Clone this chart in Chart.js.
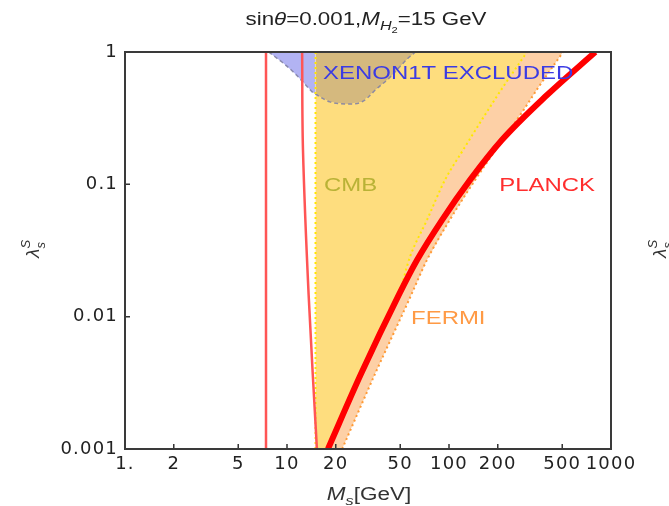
<!DOCTYPE html>
<html>
<head>
<meta charset="utf-8">
<script src="https://cdn.jsdelivr.net/npm/chart.js@4.4.0/dist/chart.umd.min.js"></script>
<style>
  html, body { margin: 0; padding: 0; background: #fff; }
  #wrap { width: 669px; height: 506px; }
</style>
</head>
<body>
<div id="wrap"><canvas id="grafico"></canvas></div>
<script>
// axis ticks
const massTicks = [1, 2, 5, 10, 20, 50, 100, 200, 500, 1000];
const lambdaTicks = [0.001, 0.01, 0.1, 1];

// PLANCK bound (thick red curve)
const planckMass = [17.9, 28.6, 49, 63.5, 90.5, 135, 212, 403, 800];
const planckLambda = [0.001, 0.00368, 0.0146, 0.0268, 0.0537, 0.108, 0.216, 0.473, 1];

// FERMI bound (orange dotted)
const fermiMass = [21.9, 34.9, 56.5, 73.1, 101, 145, 294, 354, 506];
const fermiLambda = [0.001, 0.00368, 0.0133, 0.0268, 0.0537, 0.108, 0.377, 0.534, 1];

// CMB bound (yellow dotted), left edge at M_H2
const cmbEdgeMass = 15;
const cmbMass = [17.9, 28.6, 49, 57.4, 73.1, 94.5, 122, 200, 303];
const cmbLambda = [0.001, 0.00368, 0.0146, 0.0282, 0.0537, 0.108, 0.181, 0.473, 1];

// XENON1T excluded region (boundary, top of the frame is the other side)
const xenonMass = [7.7, 9.3, 10.9, 12.6, 14.3, 15, 18.4, 23.5, 29, 35.9, 43, 50, 56, 62];
const xenonLambda = [1, 0.84, 0.71, 0.59, 0.5, 0.48, 0.42, 0.405, 0.42, 0.53, 0.64, 0.78, 0.9, 1];

// thin red lines
const redVertMass = [7.42, 7.42];
const redVertLambda = [0.001, 1];
const redSlantMass = [12.4, 12.55, 13.6, 15.3];
const redSlantLambda = [1, 0.182, 0.0146, 0.001];

const pts = (xs, ys) => xs.map((x, i) => ({ x: x, y: ys[i] }));
const xenonPts = pts(xenonMass, xenonLambda);

const FONT = '"Liberation Sans", Arial, sans-serif';
const TICKFONT = '"DejaVu Sans", sans-serif';

// text with italics / sub / superscripts, stretched horizontally like the original
function richText(ctx, parts, x, y, size, color, align, sx) {
    ctx.save();
    ctx.letterSpacing = '0px';
    ctx.fillStyle = color;
    ctx.textBaseline = 'alphabetic';
    ctx.textAlign = 'left';
    const fontOf = p => (p.it ? 'italic ' : '') + Math.round(size * (p.s || 1)) + 'px ' + FONT;
    let w = 0;
    parts.forEach(p => { ctx.font = fontOf(p); if (!p.keep) w += ctx.measureText(p.t).width; });
    ctx.translate(x, y);
    ctx.scale(sx, 1);
    let cx = align === 'center' ? -w / 2 : 0;
    parts.forEach(p => {
        ctx.font = fontOf(p);
        ctx.fillText(p.t, cx, (p.dy || 0) * size);
        if (!p.keep) cx += ctx.measureText(p.t).width;
    });
    ctx.restore();
}

const regionLabels = [
    { parts: [{ t: 'XENON1T EXCLUDED' }], x: 16.7, y: 0.7, color: '#3b3be4' },
    { parts: [{ t: 'CMB' }], x: 16.9, y: 0.1, color: '#b9b236' },
    { parts: [{ t: 'PLANCK' }], x: 204, y: 0.1, color: '#ff2e2e' },
    { parts: [{ t: 'FERMI' }], x: 58.3, y: 0.0098, color: '#ff9a45' }
];

const decorPlugin = {
    id: 'decor',
    beforeDraw(chart) {
        chart.ctx.letterSpacing = '1.2px';
    },
    afterDatasetsDraw(chart) {
        const ctx = chart.ctx;
        const a = chart.chartArea;
        const xs = chart.scales.x, ys = chart.scales.y;
        // labels inside the plot
        regionLabels.forEach(l => {
            richText(ctx, l.parts, xs.getPixelForValue(l.x), ys.getPixelForValue(l.y) + 6.5, 18, l.color, 'left', 1.33);
        });
        // inner ticks + frame
        ctx.save();
        ctx.strokeStyle = '#333';
        ctx.lineWidth = 1.5;
        ctx.beginPath();
        massTicks.forEach(v => {
            const px = xs.getPixelForValue(v);
            ctx.moveTo(px, a.bottom);
            ctx.lineTo(px, a.bottom - 5);
        });
        lambdaTicks.forEach(v => {
            const py = ys.getPixelForValue(v);
            ctx.moveTo(a.left, py);
            ctx.lineTo(a.left + 5, py);
        });
        ctx.stroke();
        ctx.lineWidth = 2;
        ctx.strokeStyle = '#3a3a3a';
        ctx.strokeRect(a.left, a.top, a.right - a.left, a.bottom - a.top);
        ctx.restore();
    },
    afterDraw(chart) {
        const ctx = chart.ctx;
        // title
        richText(ctx, [
            { t: 'sin' }, { t: 'θ', it: true }, { t: '=0.001,' }, { t: 'M', it: true },
            { t: 'H', it: true, s: 0.7, dy: 0.3 }, { t: '2', s: 0.5, dy: 0.45 }, { t: '=15 GeV' }
        ], 366, 25, 18, '#222', 'center', 1.24);
        // x axis title
        richText(ctx, [{ t: 'M', it: true }, { t: 's', it: true, s: 0.7, dy: 0.3 }, { t: '[GeV]' }],
            369, 500, 18, '#333', 'center', 1.25);
        // y axis titles (this panel and the cut-off neighbour)
        [33, 660].forEach(cx => {
            ctx.save();
            ctx.translate(cx, 250);
            ctx.rotate(-Math.PI / 2);
            richText(ctx, [{ t: 'λ', it: true }, { t: 'S', it: true, s: 0.7, dy: -0.45, keep: true }, { t: 's', it: true, s: 0.7, dy: 0.3 }],
                0, 6, 19, '#333', 'center', 1);
            ctx.restore();
        });
        ctx.letterSpacing = '0px';
    }
};

const line = (data, color, width, dash, order, extra) => Object.assign({
    data: data, borderColor: color, borderWidth: width, borderDash: dash,
    pointRadius: 0, fill: false, cubicInterpolationMode: 'monotone', order: order
}, extra || {});

const area = (data, color, order) => ({
    data: data, backgroundColor: color, borderWidth: 0, borderColor: 'transparent',
    pointRadius: 0, fill: 'end', tension: 0, order: order
});

const edgeTop = { x: cmbEdgeMass, y: 1 }, edgeBottom = { x: cmbEdgeMass, y: 0.001 };
const straight = { cubicInterpolationMode: 'default', tension: 0 };
const soft = { cubicInterpolationMode: 'default', tension: 0.35 };

new Chart('grafico', {
    type: 'line',
    data: {
        datasets: [
            area([edgeTop, edgeBottom].concat(pts(fermiMass, fermiLambda)), '#fdd0a6', 9),
            area([edgeTop, edgeBottom].concat(pts(cmbMass, cmbLambda)), '#fedd7e', 8),
            area(xenonPts.filter(p => p.x <= cmbEdgeMass), '#b2b3f3', 7),
            area(xenonPts.filter(p => p.x >= cmbEdgeMass), '#d5b97e', 6),
            line(xenonPts, 'rgba(130,130,165,0.9)', 1.5, [4, 3], 5, soft),
            line(pts(fermiMass, fermiLambda), '#ff9a35', 2, [2, 3], 4),
            line(pts(cmbMass, cmbLambda), '#ffe600', 2, [2, 3], 3),
            line([edgeTop, edgeBottom], '#ffe600', 2, [2, 3], 3, straight),
            line(pts(redVertMass, redVertLambda), '#ff5555', 2.5, [], 2, straight),
            line(pts(redSlantMass, redSlantLambda), '#ff5555', 2.5, [], 2, soft),
            line(pts(planckMass, planckLambda), '#ff0000', 6, [], 1)
        ]
    },
    options: {
        responsive: true,
        maintainAspectRatio: false,
        animation: false,
        events: [],
        layout: { padding: { left: 0, top: 52, right: 58, bottom: 0 } },
        plugins: { legend: { display: false }, tooltip: { enabled: false } },
        scales: {
            x: {
                type: 'logarithmic', min: 1, max: 1000,
                grid: { display: false, drawTicks: false },
                border: { display: false },
                afterBuildTicks: s => { s.ticks = massTicks.map(v => ({ value: v })); },
                afterFit: s => { s.height = 57; },
                ticks: {
                    autoSkip: false, maxRotation: 0, minRotation: 0, padding: 5,
                    color: '#222', font: { family: TICKFONT, size: 18 },
                    callback: v => (v === 1 ? '1.' : String(v))
                }
            },
            y: {
                type: 'logarithmic', min: 0.001, max: 1,
                grid: { display: false, drawTicks: false },
                border: { display: false },
                afterBuildTicks: s => { s.ticks = lambdaTicks.map(v => ({ value: v })); },
                afterFit: s => { s.width = 125; },
                ticks: {
                    autoSkip: false, padding: 7,
                    color: '#222', font: { family: TICKFONT, size: 18 },
                    callback: v => String(v)
                }
            }
        }
    },
    plugins: [decorPlugin]
});
</script>
</body>
</html>
